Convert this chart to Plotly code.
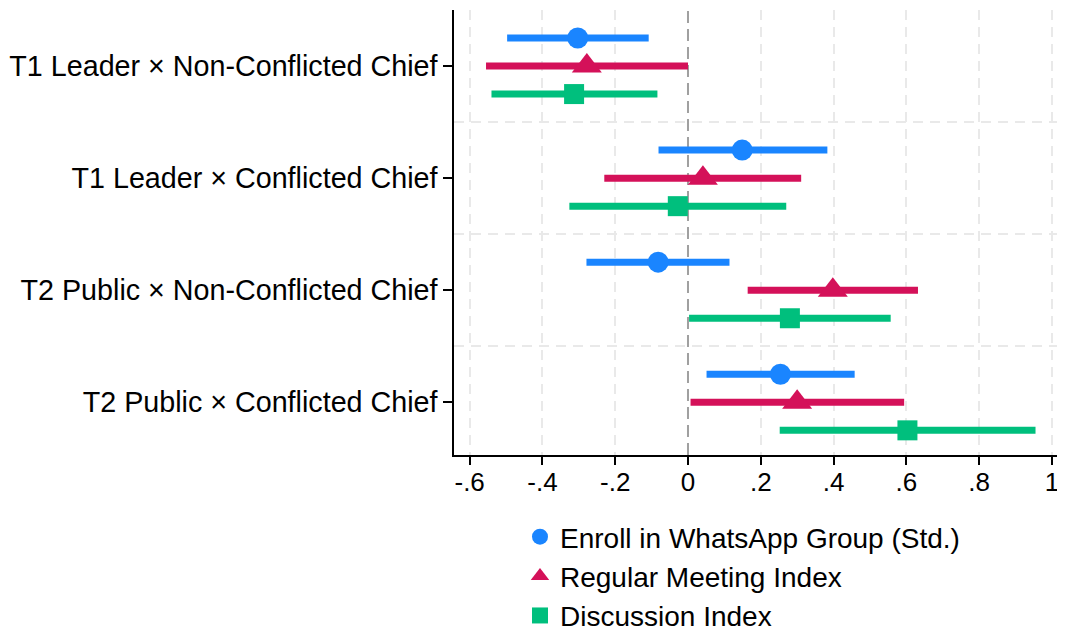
import plotly.graph_objects as go

categories = ["T1 Leader × Non-Conflicted Chief", "T1 Leader × Conflicted Chief",
              "T2 Public × Non-Conflicted Chief", "T2 Public × Conflicted Chief"]
series_names = ["Enroll in WhatsApp Group (Std.)", "Regular Meeting Index", "Discussion Index"]

enroll_est = [-0.303, 0.149, -0.082, 0.254]
enroll_lo = [-0.497, -0.081, -0.279, 0.051]
enroll_hi = [-0.108, 0.383, 0.114, 0.458]

meeting_est = [-0.278, 0.041, 0.398, 0.300]
meeting_lo = [-0.555, -0.230, 0.164, 0.007]
meeting_hi = [0.000, 0.311, 0.632, 0.594]

discuss_est = [-0.313, -0.028, 0.280, 0.603]
discuss_lo = [-0.540, -0.326, 0.003, 0.252]
discuss_hi = [-0.084, 0.270, 0.557, 0.955]

x_ticks = [-0.6, -0.4, -0.2, 0, 0.2, 0.4, 0.6, 0.8, 1]
x_ticktext = ["-.6", "-.4", "-.2", "0", ".2", ".4", ".6", ".8", "1"]
x_grid = [v for v in x_ticks if v != 0]

colors = ["#1A85FF", "#D41159", "#00BF7D"]
symbols = ["circle", "triangle-up", "square"]
sizes = [21, 26, 20]
offsets = [-0.25, 0.0, 0.25]

FONT = "Liberation Sans, Arial, Helvetica, sans-serif"

fig = go.Figure()
data = [(enroll_est, enroll_lo, enroll_hi), (meeting_est, meeting_lo, meeting_hi),
        (discuss_est, discuss_lo, discuss_hi)]
for k, (est, lo, hi) in enumerate(data):
    ys = [i + offsets[k] for i in range(len(categories))]
    fig.add_trace(go.Scatter(
        x=est, y=ys, mode="markers", name=series_names[k],
        legendgroup=f"g{k}",
        marker=dict(color=colors[k], symbol=symbols[k], size=sizes[k], line=dict(width=0)),
        error_x=dict(type="data", symmetric=False,
                     array=[h - e for h, e in zip(hi, est)],
                     arrayminus=[e - l for e, l in zip(est, lo)],
                     color=colors[k], thickness=7, width=0),
    ))

fig.add_vline(x=0, line=dict(color="#a0a0a0", width=2, dash="12px,6px"), layer="below")

fig.update_layout(
    width=1065, height=635,
    margin=dict(l=446, r=8, t=2, b=188, autoexpand=False),
    paper_bgcolor="white", plot_bgcolor="white",
    font=dict(family=FONT, size=28, color="black"),
    showlegend=True,
    legend=dict(x=0.108, y=-0.128, xanchor="left", yanchor="top",
                font=dict(family=FONT, size=28, color="black"),
                tracegroupgap=0, itemsizing="trace", bgcolor="rgba(0,0,0,0)"),
    xaxis=dict(range=[-0.643, 1.036], tickvals=x_ticks, ticktext=x_ticktext,
               automargin=False,
               showgrid=False,
               zeroline=False, showline=True, linecolor="black", linewidth=1.5,
               ticks="outside", ticklen=8, tickcolor="black", tickwidth=1.5,
               ticklabelstandoff=-5,
               tickfont=dict(size=26),
               minor=dict(tickvals=x_grid, showgrid=True, gridcolor="#e9e9e9",
                          griddash="10px,7px", gridwidth=1.5, ticks="")),
    yaxis=dict(range=[3.47, -0.5], tickvals=list(range(len(categories))), ticktext=categories,
               automargin=False,
               showgrid=False, zeroline=False, showline=True, linecolor="black", linewidth=1.5,
               ticks="outside", ticklen=9, tickcolor="black", tickwidth=1.5,
               tickfont=dict(size=28.7),
               minor=dict(tickvals=[0.5, 1.5, 2.5], showgrid=True, gridcolor="#e9e9e9",
                          griddash="10px,7px", gridwidth=1.5, ticks="")),
)

fig.write_html("out.html")
